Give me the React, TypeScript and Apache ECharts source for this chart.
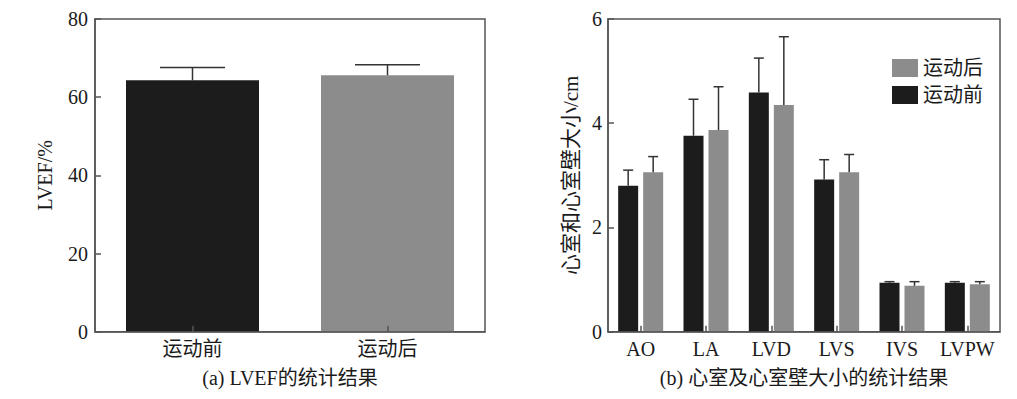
import React, { useEffect, useRef } from "react";
import * as echarts from "echarts";

const leftCategories = ["运动前", "运动后"];
const leftValues = [64.3, 65.6];
const leftErrors = [3.3, 2.7];
const leftColors = ["#1c1c1c", "#8c8c8c"];

const rightCategories = ["AO", "LA", "LVD", "LVS", "IVS", "LVPW"];
const beforeValues = [2.8, 3.76, 4.59, 2.92, 0.94, 0.94];
const beforeErrors = [0.3, 0.7, 0.66, 0.38, 0.02, 0.02];
const afterValues = [3.06, 3.87, 4.35, 3.06, 0.88, 0.91];
const afterErrors = [0.3, 0.83, 1.31, 0.34, 0.08, 0.05];

const leftTicks = { min: 0, max: 80, interval: 20 };
const rightTicks = { min: 0, max: 6, interval: 2 };

const FONT = "'Liberation Serif', 'Noto Sans CJK SC', serif";
const AXIS_COLOR = "#555";
const TEXT_COLOR = "#1a1a1a";

function errorSeries(
  name: string,
  xAxisIndex: number,
  yAxisIndex: number,
  values: number[],
  errors: number[],
  offset: number,
  capWidth: number
) {
  return {
    type: "custom",
    name,
    xAxisIndex,
    yAxisIndex,
    z: 5,
    silent: true,
    encode: { x: 0, y: 1 },
    data: values.map((v, i) => [i, v, errors[i]]),
    renderItem: (params: any, api: any) => {
      const idx = api.value(0);
      const v = api.value(1);
      const e = api.value(2);
      const p0 = api.coord([idx, v]);
      const p1 = api.coord([idx, v + e]);
      const x = p0[0] + offset;
      const style = { stroke: "#333", lineWidth: 1.5 };
      return {
        type: "group",
        children: [
          { type: "line", shape: { x1: x, y1: p0[1], x2: x, y2: p1[1] }, style },
          {
            type: "line",
            shape: { x1: x - capWidth / 2, y1: p1[1], x2: x + capWidth / 2, y2: p1[1] },
            style,
          },
        ],
      };
    },
  };
}

export default function App() {
  const ref = useRef<HTMLDivElement>(null);

  useEffect(() => {
    if (!ref.current) return;
    const chart = echarts.init(ref.current, null, { renderer: "svg" });

    const axisLabel = { color: TEXT_COLOR, fontSize: 20, fontFamily: FONT };
    const axisLine = { show: true, lineStyle: { color: AXIS_COLOR, width: 1.5 } };
    const axisTick = { show: true, inside: true, length: 6, lineStyle: { color: AXIS_COLOR, width: 1.5 } };

    const option: any = {
      animation: false,
      backgroundColor: "#fff",
      textStyle: { fontFamily: FONT },
      grid: [
        { left: 95, top: 19, width: 390, height: 312.7, show: true, borderColor: AXIS_COLOR, borderWidth: 1.5, backgroundColor: "transparent" },
        { left: 608, top: 19, width: 392, height: 312.7, show: true, borderColor: AXIS_COLOR, borderWidth: 1.5, backgroundColor: "transparent" },
      ],
      legend: {
        data: ["运动后", "运动前"],
        orient: "vertical",
        left: 887,
        top: 53,
        itemWidth: 26,
        itemHeight: 18,
        itemGap: 7,
        icon: "rect",
        textStyle: { color: TEXT_COLOR, fontSize: 20, fontFamily: FONT },
        selectedMode: false,
      },
      xAxis: [
        {
          type: "category",
          gridIndex: 0,
          data: leftCategories,
          z: 10,
          axisLine,
          axisTick: { ...axisTick, alignWithLabel: true },
          axisLabel: { ...axisLabel, margin: 7, interval: 0 },
          splitLine: { show: false },
        },
        {
          type: "category",
          gridIndex: 1,
          data: rightCategories,
          z: 10,
          axisLine,
          axisTick: { ...axisTick, alignWithLabel: true, interval: 0 },
          axisLabel: { ...axisLabel, margin: 7, interval: 0 },
          splitLine: { show: false },
        },
      ],
      yAxis: [
        {
          type: "value",
          gridIndex: 0,
          ...leftTicks,
          name: "LVEF/%",
          nameLocation: "middle",
          nameGap: 40,
          nameTextStyle: { color: TEXT_COLOR, fontSize: 20, fontFamily: FONT },
          axisLine,
          axisTick,
          axisLabel: { ...axisLabel, margin: 7 },
          splitLine: { show: false },
        },
        {
          type: "value",
          gridIndex: 1,
          ...rightTicks,
          name: "心室和心室壁大小/cm",
          nameLocation: "middle",
          nameGap: 27,
          nameTextStyle: { color: TEXT_COLOR, fontSize: 21, fontFamily: FONT },
          axisLine,
          axisTick,
          axisLabel: { ...axisLabel, margin: 6 },
          splitLine: { show: false },
        },
      ],
      series: [
        {
          type: "bar",
          name: "LVEF",
          xAxisIndex: 0,
          yAxisIndex: 0,
          barWidth: 133,
          data: leftValues.map((v, i) => ({ value: v, itemStyle: { color: leftColors[i] } })),
        },
        errorSeries("LVEF误差", 0, 0, leftValues, leftErrors, 0, 65),
        {
          type: "bar",
          name: "运动前",
          xAxisIndex: 1,
          yAxisIndex: 1,
          barWidth: 20,
          barGap: "25%",
          itemStyle: { color: "#1c1c1c" },
          data: beforeValues,
        },
        {
          type: "bar",
          name: "运动后",
          xAxisIndex: 1,
          yAxisIndex: 1,
          barWidth: 20,
          barGap: "25%",
          itemStyle: { color: "#8c8c8c" },
          data: afterValues,
        },
        errorSeries("运动前误差", 1, 1, beforeValues, beforeErrors, -12.5, 10),
        errorSeries("运动后误差", 1, 1, afterValues, afterErrors, 12.5, 10),
      ],
      graphic: [
        {
          type: "text",
          x: 290,
          y: 378,
          style: {
            text: "(a) LVEF的统计结果",
            fill: TEXT_COLOR,
            font: `20px ${FONT}`,
            textAlign: "center",
            textVerticalAlign: "middle",
          },
        },
        {
          type: "text",
          x: 804,
          y: 378,
          style: {
            text: "(b) 心室及心室壁大小的统计结果",
            fill: TEXT_COLOR,
            font: `20px ${FONT}`,
            textAlign: "center",
            textVerticalAlign: "middle",
          },
        },
      ],
    };

    chart.setOption(option);
    return () => chart.dispose();
  }, []);

  return (
    <div
      ref={ref}
      style={{ position: "absolute", left: 0, top: 0, width: 1017, height: 399 }}
    />
  );
}
